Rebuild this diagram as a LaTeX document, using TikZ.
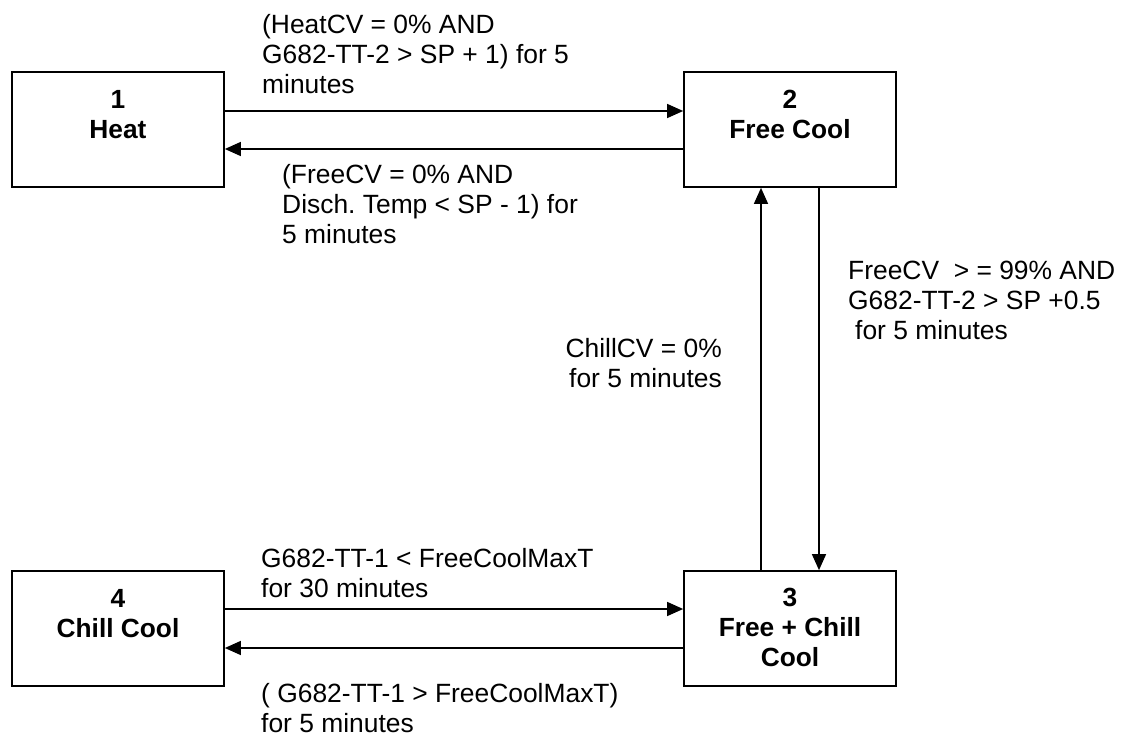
\documentclass[tikz,border=0pt]{standalone}
\usepackage{fontspec}
\setmainfont{Liberation Sans}
\usetikzlibrary{arrows.meta}
\frenchspacing
\begin{document}
\begin{tikzpicture}[x=1pt,y=-1pt,
  statebox/.style={draw=black,line width=1.7pt,minimum width=212pt,minimum height=115pt,inner sep=0pt},
  boxtext/.style={anchor=north,align=center,inner sep=0pt,font=\fontsize{26.3}{30}\selectfont\bfseries},
  cond/.style={anchor=north west,align=left,inner sep=0pt,font=\fontsize{26.4}{30}\selectfont},
  arr/.style={line width=1.4pt,-{Triangle[length=16pt,width=14pt]}}]
\useasboundingbox (0,0) rectangle (1128,736);
\node[statebox] (b1) at (118,129.5) {};
\node[statebox] (b2) at (790,129.5) {};
\node[statebox] (b3) at (790,628.5) {};
\node[statebox] (b4) at (118,628.5) {};
\node[boxtext] (t1) at ([yshift=-16pt]b1.north) {\strut 1\\Heat};
\node[boxtext] (t2) at ([yshift=-16pt]b2.north) {\strut 2\\Free Cool};
\node[boxtext] (t3) at ([yshift=-15pt]b3.north) {\strut 3\\Free + Chill\\Cool};
\node[boxtext] (t4) at ([yshift=-16pt]b4.north) {\strut 4\\Chill Cool};
% connectors
\draw[arr] ([yshift=18.5pt]b1.east) -- ([yshift=18.5pt]b2.west);
\draw[arr] ([yshift=-19.5pt]b2.west) -- ([yshift=-19.5pt]b1.east);
\draw[arr] ([xshift=29pt]b2.south) -- ([xshift=29pt]b3.north);
\draw[arr] ([xshift=-29pt]b3.north) -- ([xshift=-29pt]b2.south);
\draw[arr] ([yshift=19.5pt]b4.east) -- ([yshift=19.5pt]b3.west);
\draw[arr] ([yshift=-19.5pt]b3.west) -- ([yshift=-19.5pt]b4.east);
% labels
\node[cond] (l12) at (262,12) {\strut (HeatCV = 0\% AND\\G682-TT-2 > SP + 1) for 5\\minutes};
\node[cond] (l21) at (282,162) {\strut (FreeCV = 0\% AND\\Disch. Temp < SP - 1) for\\5 minutes};
\node[cond] (l23) at (848,258) {\strut FreeCV\ \ > = 99\% AND\\G682-TT-2 > SP +0.5\\\hspace*{7pt}for 5 minutes};
\node[cond,anchor=north east,align=right] (l32) at (722,336) {\strut ChillCV = 0\%\\for 5 minutes};
\node[cond] (l43) at (261,546) {\strut G682-TT-1 < FreeCoolMaxT\\for 30 minutes};
\node[cond] (l34) at (261,681) {\strut ( G682-TT-1 > FreeCoolMaxT)\\for 5 minutes};
\end{tikzpicture}
\end{document}
